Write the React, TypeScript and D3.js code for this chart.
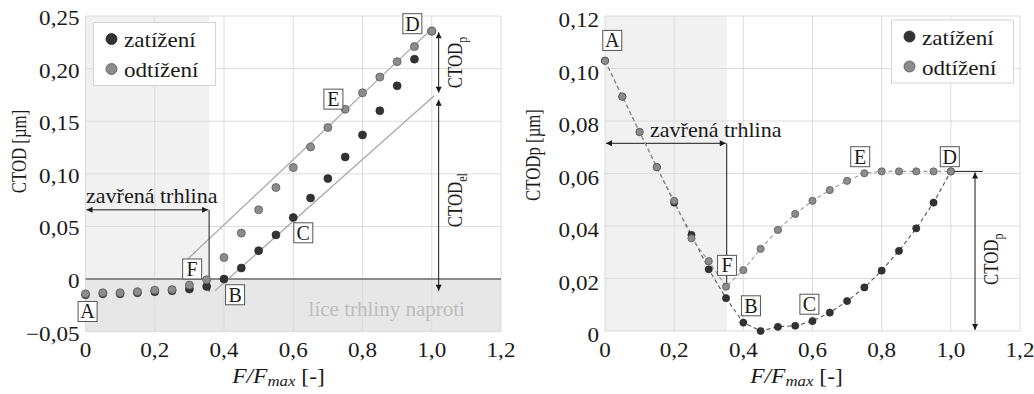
import React from 'react';
import * as d3 from 'd3';

// Load steps F/Fmax shared by both panels
const steps = [0, 0.05, 0.1, 0.15, 0.2, 0.25, 0.3, 0.35, 0.4, 0.45, 0.5, 0.55, 0.6, 0.65, 0.7, 0.75, 0.8, 0.85, 0.9, 0.95, 1.0];

// Left panel: total CTOD [µm]
const ctodLoading = [-0.015, -0.014, -0.014, -0.013, -0.012, -0.011, -0.0095, -0.007, 0.0, 0.0105, 0.027, 0.042, 0.0585, 0.077, 0.0955, 0.116, 0.137, 0.16, 0.1836, 0.209, 0.2355];
const ctodUnloading = [-0.014, -0.013, -0.013, -0.012, -0.0105, -0.01, -0.0057, -0.0007, 0.0205, 0.0437, 0.0658, 0.087, 0.106, 0.1256, 0.144, 0.1614, 0.177, 0.192, 0.2066, 0.2209, 0.2355];

// Right panel: plastic CTODp [µm]
const ctodpLoading = [0.103, 0.0893, 0.0758, 0.0624, 0.0489, 0.0366, 0.0235, 0.0125, 0.0032, 0.0, 0.0016, 0.002, 0.0038, 0.007, 0.0114, 0.0166, 0.023, 0.0305, 0.0391, 0.0489, 0.0608];
const ctodpUnloading = [0.1029, 0.0893, 0.0758, 0.0624, 0.0496, 0.0353, 0.0266, 0.0169, 0.0232, 0.0313, 0.0385, 0.0446, 0.0496, 0.0537, 0.0572, 0.0601, 0.0608, 0.0608, 0.0608, 0.0608, 0.0608];

const seriesNames = ['zatížení', 'odtížení'];
const xTicks = [0, 0.2, 0.4, 0.6, 0.8, 1.0, 1.2];
const leftYTicks = [-0.05, 0, 0.05, 0.1, 0.15, 0.2, 0.25];
const rightYTicks = [0, 0.02, 0.04, 0.06, 0.08, 0.1, 0.12];

// Elastic guide lines (unloading branch, loading branch)
const unloadGuide: [number, number][] = [[0.295, 0.019], [1.007, 0.2399]];
const loadGuide: [number, number][] = [[0.374, -0.011], [1.007, 0.1743]];

// Closed-crack limit and CTOD levels
const closedLimitLeft = 0.357;
const closedLimitRight = 0.352;
const ctodMax = 0.2355;
const ctodElTop = 0.1743;
const ctodBase = -0.011;
const ctodpFinal = 0.0608;

const leftLetters = [
  { t: 'A', x: 0.006, y: -0.0308 },
  { t: 'B', x: 0.432, y: -0.0149 },
  { t: 'C', x: 0.629, y: 0.044 },
  { t: 'D', x: 0.944, y: 0.2427 },
  { t: 'E', x: 0.716, y: 0.171 },
  { t: 'F', x: 0.308, y: 0.0096 },
];
const rightLetters = [
  { t: 'A', x: 0.021, y: 0.1107 },
  { t: 'B', x: 0.422, y: 0.0096 },
  { t: 'C', x: 0.591, y: 0.0102 },
  { t: 'D', x: 0.997, y: 0.0664 },
  { t: 'E', x: 0.738, y: 0.0664 },
  { t: 'F', x: 0.353, y: 0.025 },
];

const FONT = '"Liberation Serif", "Times New Roman", serif';
const DARK = '#333';
const GRAY = '#8c8c8c';
const GRID = '#dcdcdc';
const INK = '#1a1a1a';

const loc = d3.formatLocale({ decimal: ',', thousands: ' ', grouping: [3], currency: ['', ''] });
const fmt2 = (v: number) => (Math.abs(v) < 1e-9 ? '0' : loc.format('.2f')(v));
const fmt1 = (v: number) => (Math.abs(v) < 1e-9 ? '0' : loc.format('.1f')(v));

type TxtProps = {
  x: number; y: number; children: React.ReactNode; size?: number; anchor?: string;
  sx?: number; rotate?: number; fill?: string; style?: React.CSSProperties;
};
function Txt({ x, y, children, size = 21, anchor = 'start', sx = 1, rotate = 0, fill = INK, style }: TxtProps) {
  return (
    <g transform={`translate(${x},${y}) rotate(${rotate}) scale(${sx},1)`}>
      <text textAnchor={anchor as any} fontSize={size} fill={fill} fontFamily={FONT} style={style}>{children}</text>
    </g>
  );
}

function Legend({ x, y }: { x: number; y: number }) {
  return (
    <g>
      <rect x={x} y={y} width={122} height={63} fill="#fff" stroke="#d4d4d4" strokeWidth={1} />
      {seriesNames.map((n, i) => (
        <g key={n}>
          <circle cx={x + 18} cy={y + 16.5 + i * 30} r={5.5} fill={i === 0 ? DARK : GRAY} stroke={i === 0 ? '#222' : '#555'} strokeWidth={0.8} />
          <Txt x={x + 30.5} y={y + 24.5 + i * 30} sx={1.1}>{n}</Txt>
        </g>
      ))}
    </g>
  );
}

function Letter({ x, y, t }: { x: number; y: number; t: string }) {
  return (
    <g>
      <rect x={x - 9.5} y={y - 10} width={19} height={20} fill="#fff" stroke="#555" strokeWidth={1} />
      <Txt x={x} y={y + 7} anchor="middle" size={20}>{t}</Txt>
    </g>
  );
}

function XTitle({ x }: { x: number }) {
  return (
    <g transform={`translate(${x},383) scale(1.12,1)`}>
      <text textAnchor="middle" fontSize={21} fill={INK} fontFamily={FONT}>
        <tspan fontStyle="italic">F</tspan>
        <tspan fontStyle="italic">/F</tspan>
        <tspan fontStyle="italic" fontSize={15} dy={3}>max</tspan>
        <tspan dy={-3}> [-]</tspan>
      </text>
    </g>
  );
}

function RotLabel({ x, y, sub }: { x: number; y: number; sub: string }) {
  return (
    <g transform={`translate(${x},${y}) rotate(-90) scale(0.8,1)`}>
      <text textAnchor="middle" fontSize={21} fill={INK} fontFamily={FONT}>
        CTOD<tspan fontSize={15} dy={5}>{sub}</tspan>
      </text>
    </g>
  );
}

function LeftPanel() {
  const x = d3.scaleLinear().domain([0, 1.2]).range([85.5, 501]);
  const y = d3.scaleLinear().domain([-0.05, 0.25]).range([331.7, 16]);
  const line = d3.line<[number, number]>().x((d) => x(d[0])).y((d) => y(d[1]));
  const arrowX = x(1.02);
  return (
    <g>
      <rect x={x(0)} y={y(0.25)} width={x(closedLimitLeft) - x(0)} height={y(0) - y(0.25)} fill="#f1f1f1" />
      <rect x={x(0)} y={y(0)} width={x(1.2) - x(0)} height={y(-0.05) - y(0)} fill="#e7e7e7" />
      {xTicks.map((t) => (
        <line key={'gx' + t} x1={x(t)} x2={x(t)} y1={y(0.25)} y2={y(-0.05)} stroke={GRID} strokeWidth={1} />
      ))}
      {leftYTicks.map((t) => (
        <line key={'gy' + t} x1={x(0)} x2={x(1.2)} y1={y(t)} y2={y(t)} stroke={GRID} strokeWidth={1} />
      ))}
      <line x1={x(0)} x2={x(1.2)} y1={y(0)} y2={y(0)} stroke="#8a8a8a" strokeWidth={2} />
      {leftYTicks.map((t) => (
        <Txt key={'ly' + t} x={79.5} y={y(t) + 9} anchor="end" sx={1.1}>{fmt2(t)}</Txt>
      ))}
      {xTicks.map((t) => (
        <Txt key={'lx' + t} x={x(t)} y={357} anchor="middle" sx={1.1}>{fmt1(t)}</Txt>
      ))}
      <Txt x={x(0.87)} y={316} anchor="middle" fill="#bdbdbd">líce trhliny naproti</Txt>

      <path d={line(unloadGuide) || ''} stroke="#a8a8a8" strokeWidth={1.3} fill="none" />
      <path d={line(loadGuide) || ''} stroke="#a8a8a8" strokeWidth={1.3} fill="none" />

      {/* closed crack span */}
      <line x1={x(0) + 1} x2={x(closedLimitLeft) - 1} y1={y(0.0658)} y2={y(0.0658)} stroke={INK} strokeWidth={1} markerStart="url(#arr)" markerEnd="url(#arr)" />
      <line x1={x(closedLimitLeft)} x2={x(closedLimitLeft)} y1={y(0.0658)} y2={y(-0.0118)} stroke={INK} strokeWidth={1} />
      <Txt x={x(0) + 0.5} y={203} sx={1.05}>zavřená trhlina</Txt>

      {/* CTOD split into plastic and elastic part */}
      <line x1={arrowX} x2={arrowX} y1={y(ctodMax) + 1} y2={y(ctodElTop) - 3} stroke={INK} strokeWidth={1} markerStart="url(#arr)" markerEnd="url(#arr)" />
      <line x1={arrowX} x2={arrowX} y1={y(ctodElTop) + 4} y2={y(ctodBase)} stroke={INK} strokeWidth={1} markerStart="url(#arr)" markerEnd="url(#arr)" />
      <RotLabel x={arrowX + 23.5} y={y((ctodMax + ctodElTop) / 2) - 1} sub="p" />
      <RotLabel x={arrowX + 23.5} y={y((ctodElTop + ctodBase) / 2) + 7} sub="el" />

      {steps.map((s, i) => (
        <circle key={'ld' + i} cx={x(s)} cy={y(ctodLoading[i])} r={4} fill={DARK} stroke="#222" strokeWidth={0.6} />
      ))}
      {steps.map((s, i) => (
        <circle key={'ud' + i} cx={x(s)} cy={y(ctodUnloading[i])} r={4} fill={GRAY} stroke="#5a5a5a" strokeWidth={0.8} />
      ))}
      {leftLetters.map((l) => (
        <Letter key={l.t} x={x(l.x)} y={y(l.y)} t={l.t} />
      ))}
      <Legend x={93.5} y={22.5} />
      <g transform="translate(26,151.5) rotate(-90) scale(0.8,1)">
        <text textAnchor="middle" fontSize={21} fill={INK} fontFamily={FONT}>CTOD [µm]</text>
      </g>
      <XTitle x={278.5} />
    </g>
  );
}

function RightPanel() {
  const x = d3.scaleLinear().domain([0, 1.2]).range([605, 1020]);
  const y = d3.scaleLinear().domain([0, 0.12]).range([331, 16]);
  const line = d3.line<number>().x((_, i) => x(steps[i])).y((d) => y(d));
  const arrowX = x(1.07);
  return (
    <g>
      <rect x={x(0)} y={y(0.12)} width={x(closedLimitRight) - x(0)} height={y(0) - y(0.12)} fill="#f1f1f1" />
      {xTicks.map((t) => (
        <line key={'gx' + t} x1={x(t)} x2={x(t)} y1={y(0.12)} y2={y(0)} stroke={GRID} strokeWidth={1} />
      ))}
      {rightYTicks.map((t) => (
        <line key={'gy' + t} x1={x(0)} x2={x(1.2)} y1={y(t)} y2={y(t)} stroke={GRID} strokeWidth={1} />
      ))}
      {rightYTicks.map((t) => (
        <Txt key={'ry' + t} x={599} y={y(t) + 11} anchor="end" sx={1.1}>{fmt2(t)}</Txt>
      ))}
      {xTicks.map((t) => (
        <Txt key={'rx' + t} x={x(t)} y={357} anchor="middle" sx={1.1}>{fmt1(t)}</Txt>
      ))}

      {/* closed crack span */}
      <line x1={x(0) + 1} x2={x(closedLimitRight) - 1} y1={y(0.0715)} y2={y(0.0715)} stroke={INK} strokeWidth={1} markerStart="url(#arr)" markerEnd="url(#arr)" />
      <line x1={x(closedLimitRight)} x2={x(closedLimitRight)} y1={y(0.0715)} y2={y(0.0175)} stroke={INK} strokeWidth={1} />
      <Txt x={650} y={137} sx={1.05}>zavřená trhlina</Txt>

      {/* residual plastic opening */}
      <line x1={x(1.0)} x2={x(1.092)} y1={y(ctodpFinal)} y2={y(ctodpFinal)} stroke={INK} strokeWidth={1} />
      <line x1={arrowX} x2={arrowX} y1={y(ctodpFinal) + 1} y2={y(0) - 1} stroke={INK} strokeWidth={1} markerStart="url(#arr)" markerEnd="url(#arr)" />
      <RotLabel x={arrowX + 22.5} y={y(ctodpFinal / 2) + 8} sub="p" />

      <path d={line(ctodpLoading) || ''} stroke="#555" strokeWidth={1.1} strokeDasharray="4,3" fill="none" />
      <path d={line(ctodpUnloading) || ''} stroke="#9a9a9a" strokeWidth={1.1} strokeDasharray="4,3" fill="none" />
      {steps.map((s, i) => (
        <circle key={'ld' + i} cx={x(s)} cy={y(ctodpLoading[i])} r={3.6} fill={DARK} stroke="#222" strokeWidth={0.6} />
      ))}
      {steps.map((s, i) => (
        <circle key={'ud' + i} cx={x(s)} cy={y(ctodpUnloading[i])} r={3.6} fill={GRAY} stroke="#5a5a5a" strokeWidth={0.8} />
      ))}
      {rightLetters.map((l) => (
        <Letter key={l.t} x={x(l.x)} y={y(l.y)} t={l.t} />
      ))}
      <Legend x={891.5} y={20} />
      <g transform="translate(540,155) rotate(-90) scale(0.8,1)">
        <text textAnchor="middle" fontSize={21} fill={INK} fontFamily={FONT}>CTODp [µm]</text>
      </g>
      <XTitle x={796.5} />
    </g>
  );
}

export default function App() {
  return (
    <svg width={1034} height={394} style={{ position: 'absolute', left: 0, top: 0, background: '#fff' }}>
      <defs>
        <marker id="arr" viewBox="0 0 10 10" refX={10} refY={5} markerWidth={8} markerHeight={6} markerUnits="userSpaceOnUse" orient="auto-start-reverse">
          <path d="M0,0 L10,5 L0,10 Z" fill={INK} />
        </marker>
      </defs>
      <rect width={1034} height={394} fill="#fff" />
      <LeftPanel />
      <RightPanel />
    </svg>
  );
}
